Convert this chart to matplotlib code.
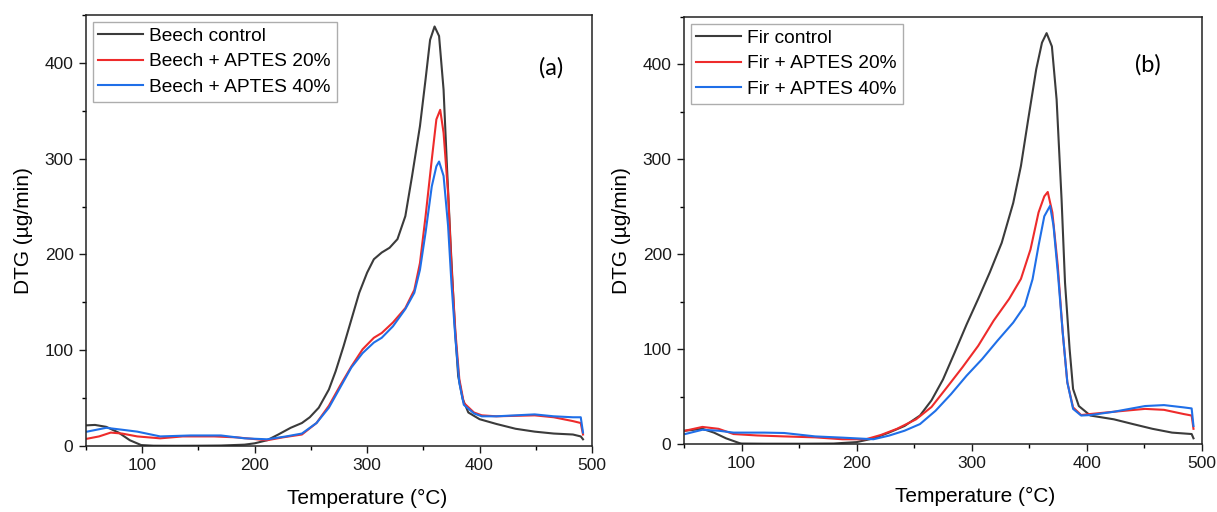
import numpy as np
import matplotlib
matplotlib.use("Agg")
import matplotlib.pyplot as plt
from matplotlib.ticker import MultipleLocator

plt.rcParams['font.family'] = ['Liberation Sans', 'DejaVu Sans']

# ---- panel (a): beech (temperature °C, DTG µg/min)
beech_ctrl_t = [51, 58, 68, 79, 89, 99, 110, 130, 150, 170, 191, 200, 211, 221, 232, 242, 249, 257, 266, 272,
                279, 286, 293, 300, 306, 313, 320, 327, 334, 340, 347, 352, 356, 360, 364, 368, 371, 374.5,
                378, 381, 385, 390, 400, 415, 432, 449, 466, 483, 490, 492]
beech_ctrl_v = [21.6, 22, 20, 14, 6, 1, 0.3, 0.2, 0.3, 0.5, 1.4, 2.8, 6, 12, 19, 24, 30, 40, 59, 78,
                104, 132, 160, 181, 195, 202, 207, 216, 240, 282, 334, 383, 424, 438, 428, 372, 292, 205,
                125, 73, 49, 35, 28, 23, 18, 15, 13, 12, 10, 7]

beech_20_t = [51, 61.6, 72, 82, 95.6, 116, 136, 164, 184, 211, 225, 242, 255, 266, 276, 286, 296, 306, 313,
              323, 334, 342, 347, 352, 357.5, 361.6, 365, 368, 372, 375, 378.6, 382, 386, 395, 402, 415,
              449, 466, 483, 490, 492]
beech_20_v = [7.6, 10, 14, 13, 10, 8, 10, 10, 9, 6, 9, 12, 24, 42, 63, 83, 101, 113, 118,
              129, 144, 163, 191, 240, 299, 341, 351, 327, 264, 188, 118, 70, 45, 35, 32, 31,
              32, 30, 26, 24, 12]

beech_40_t = [51, 68, 82, 95.6, 116, 143, 170, 191, 211, 228, 242, 255, 266, 276, 286, 296, 306, 313,
              323, 334, 342, 347, 352, 357.5, 361.6, 364, 368, 372, 375, 378.6, 382, 386, 395, 402, 415,
              449, 466, 483, 490, 492]
beech_40_v = [15, 19, 17, 15, 10, 11, 11, 8, 7, 10, 13, 24, 40, 61, 82, 97, 108, 113,
              125, 143, 160, 184, 223, 271, 292, 297, 282, 230, 170, 111, 66, 43, 34, 31, 31,
              33, 31, 30, 30, 14]

# ---- panel (b): fir
fir_ctrl_t = [51, 66, 76, 86.5, 98, 100, 120, 150, 180, 200, 215, 228, 241.6, 255, 265, 275, 285, 295.5,
              305.6, 315.7, 326, 336, 342.7, 349, 356, 361, 365, 369.6, 373.7, 378, 381, 385, 388, 393,
              403, 423.5, 440, 457, 474, 491, 492.6]
fir_ctrl_v = [14, 16, 12, 6, 1, 0.5, 0.3, 0.3, 0.5, 2, 6, 12, 19, 30, 46, 68, 96, 126,
              153, 181, 212, 254, 293, 342, 395, 423, 433, 419, 363, 258, 170, 100, 58, 40,
              30, 26, 21, 16, 12, 10.5, 6]

fir_20_t = [51, 66, 80, 93, 113.5, 137, 164, 187.6, 208, 221, 235, 251.6, 265, 278.6, 292, 305.6, 319,
            332.5, 342.7, 351, 358, 363, 366, 370, 374.7, 379, 383, 388, 395, 403, 423.5, 450.5, 467,
            484, 491, 492.6]
fir_20_v = [14, 18, 16, 10.5, 9, 8, 7, 5, 5, 9.5, 16, 26, 39, 60, 81, 103.5, 130,
            153, 174, 205, 244, 261, 265.6, 244, 188, 117.5, 65, 38.6, 30.5, 31.6, 34, 37, 36,
            31.6, 30, 16]

fir_40_t = [51, 66, 80, 93, 120, 137, 164, 187.6, 214.6, 228, 241.6, 255, 268.5, 282, 295.5, 309, 322.4,
            336, 346, 352.8, 358, 363, 368, 371, 375, 379, 383, 388, 395, 403, 423.5, 450.5, 467, 484,
            491, 492.6]
fir_40_v = [10.5, 15, 14, 12, 12, 11.6, 8, 6.7, 5, 8.8, 14, 21, 35, 52.6, 72, 89.5, 109,
            128, 145.6, 173.7, 209, 240, 251, 230, 177, 117.5, 65, 37, 30, 30.5, 34, 40, 41, 38.6,
            37.5, 19]

black = '#3b3b3b'
red = '#ee2b2b'
blue = '#1f6fe8'

fig = plt.figure(figsize=(12.17, 5.12), dpi=100)
ax_a = fig.add_axes([86 / 1217, 1 - 446 / 512, 506 / 1217, 431 / 512])
ax_b = fig.add_axes([684 / 1217, 1 - 444 / 512, 518 / 1217, 427 / 512])

panels = [
    (ax_a, 'Beech', [(beech_ctrl_t, beech_ctrl_v), (beech_20_t, beech_20_v), (beech_40_t, beech_40_v)],
     '(a)', (464, 395), 0.555),
    (ax_b, 'Fir', [(fir_ctrl_t, fir_ctrl_v), (fir_20_t, fir_20_v), (fir_40_t, fir_40_v)],
     '(b)', (453, 400), 0.562),
]

for ax, wood, series, tag, tag_xy, xlab_pos in panels:
    labels = [f'{wood} control', f'{wood} + APTES 20%', f'{wood} + APTES 40%']
    for (t, v), c, lab in zip(series, [black, red, blue], labels):
        ax.plot(t, v, color=c, lw=1.5, label=lab)

    ax.set_xlim(50, 500)
    ax.set_ylim(0, 450)
    ax.xaxis.set_major_locator(MultipleLocator(100))
    ax.xaxis.set_minor_locator(MultipleLocator(50))
    ax.yaxis.set_major_locator(MultipleLocator(100))
    ax.yaxis.set_minor_locator(MultipleLocator(50))
    ax.tick_params(which='major', direction='out', length=5, width=1, labelsize=12.5, pad=4, colors='#1a1a1a')
    ax.tick_params(which='minor', direction='out', length=3, width=1)
    for s in ax.spines.values():
        s.set_linewidth(1.1)
        s.set_color('#222222')

    ax.set_xlabel('Temperature (°C)', fontsize=15)
    ax.xaxis.set_label_coords(xlab_pos, -0.1)
    ax.set_ylabel('DTG (µg/min)', fontsize=15, labelpad=8)

    leg = ax.legend(loc='upper left', fontsize=13.8, frameon=True, fancybox=False,
                    handlelength=2.3, handletextpad=0.35, labelspacing=0.42,
                    borderpad=0.3, borderaxespad=0.35)
    leg.get_frame().set_edgecolor('#999999')
    leg.get_frame().set_linewidth(1.0)

    ax.text(tag_xy[0], tag_xy[1], tag, fontsize=17, family=['Lato', 'DejaVu Sans'],
            ha='center', va='center', color='black')

fig.savefig('out.png', dpi=100)
